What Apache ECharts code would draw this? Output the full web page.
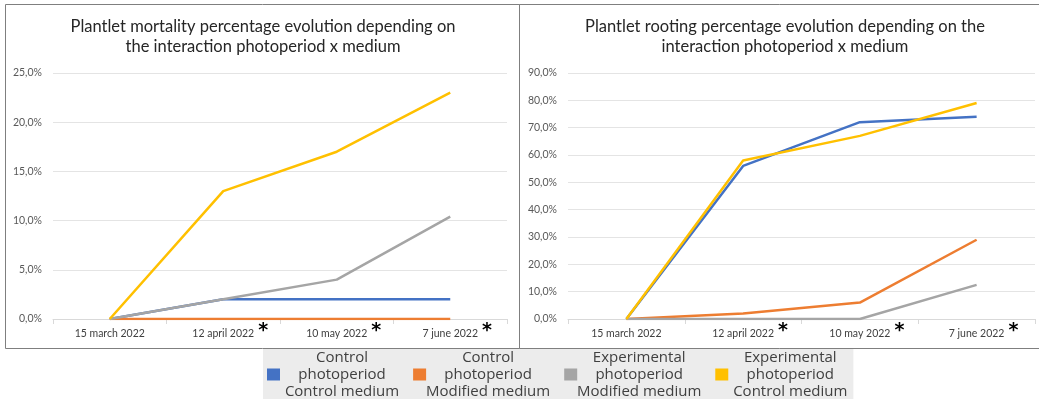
<!DOCTYPE html>
<html>
<head>
<meta charset="utf-8">
<script src="https://cdn.jsdelivr.net/npm/echarts@6/dist/echarts.min.js"></script>
<style>
html,body{margin:0;padding:0;background:#fff;}
#c{width:1039px;height:401px;}
</style>
</head>
<body>
<div id="c"></div>
<script>
var categories = ['15 march 2022', '12 april 2022', '10 may 2022', '7 june 2022'];
var starred = [false, true, true, true];
var seriesNames = [
  'Control\nphotoperiod\nControl medium',
  'Control\nphotoperiod\nModified medium',
  'Experimental\nphotoperiod\nModified medium',
  'Experimental\nphotoperiod\nControl medium'
];
var colors = ['#4472c4', '#ed7d31', '#a5a5a5', '#ffc000'];
// Mortality (%)
var mortControlControl = [0, 2, 2, 2];
var mortControlModified = [0, 0, 0, 0];
var mortExpModified = [0, 2, 4, 10.4];
var mortExpControl = [0, 13, 17, 23];
// Rooting (%)
var rootControlControl = [0, 56, 72, 74];
var rootControlModified = [0, 2, 6, 29];
var rootExpModified = [0, 0, 0, 12.5];
var rootExpControl = [0, 58, 67, 79];

var titleLeft = 'Plantlet mortality percentage evolution depending on\nthe interaction photoperiod x medium';
var titleRight = 'Plantlet rooting percentage evolution depending on the\ninteraction photoperiod x medium';

var FONT = 'Lato';
function pct(v){ return v.toFixed(1).replace('.', ',') + '%'; }
function catLabel(v){
  var idx = categories.indexOf(v);
  return '{p|}{t|' + v + '}{a|' + (starred[idx] ? '*' : ' ') + '}';
}
var xRich = {
  t: {fontSize: 10.5, color: '#404040', fontFamily: FONT, lineHeight: 14, verticalAlign: 'bottom'},
  p: {width: 14, lineHeight: 14},
  a: {width: 14, align: 'right', fontSize: 19, fontWeight: 'bold', color: '#000', fontFamily: 'DejaVu Sans', lineHeight: 19, height: 22, verticalAlign: 'top'}
};
function xAxis(gi){
  return {
    type: 'category', gridIndex: gi, data: categories, boundaryGap: true,
    axisLine: {lineStyle: {color: '#d9d9d9', width: 1}},
    axisTick: {show: true, length: 5, lineStyle: {color: '#d9d9d9'}},
    axisLabel: {margin: 1, interval: 0, formatter: catLabel, rich: xRich, lineHeight: 22, verticalAlign: 'top'}
  };
}
function yAxis(gi, max, step){
  return {
    type: 'value', gridIndex: gi, min: 0, max: max, interval: step,
    axisLine: {show: false}, axisTick: {show: false},
    splitLine: {lineStyle: {color: '#e4e4e4', width: 1}},
    axisLabel: {formatter: pct, color: '#595959', fontSize: 10.5, fontFamily: FONT, margin: 11}
  };
}
function line(name, data, gi, color){
  return {
    name: name, type: 'line', xAxisIndex: gi, yAxisIndex: gi, data: data,
    showSymbol: false, symbol: 'none', lineStyle: {width: 2.5, color: color},
    itemStyle: {color: color}, animation: false
  };
}
var chart = echarts.init(document.getElementById('c'), null, {renderer: 'canvas'});
chart.setOption({
  animation: false,
  color: colors,
  title: [
    {text: titleLeft, left: 258, top: 12, textAlign: 'center',
     textStyle: {fontSize: 16.5, fontWeight: 'normal', color: '#262626', fontFamily: FONT, lineHeight: 20}},
    {text: titleRight, left: 780, top: 12, textAlign: 'center',
     textStyle: {fontSize: 16.5, fontWeight: 'normal', color: '#262626', fontFamily: FONT, lineHeight: 20}}
  ],
  grid: [
    {left: 53, right: 532, top: 73, bottom: 82},
    {left: 568, right: 4, top: 73, bottom: 82}
  ],
  xAxis: [xAxis(0), xAxis(1)],
  yAxis: [yAxis(0, 25, 5), yAxis(1, 90, 10)],
  legend: {
    left: 263, top: 349, orient: 'horizontal',
    backgroundColor: '#ececec', padding: [1, 6, 0, 4],
    icon: 'rect', itemWidth: 13, itemHeight: 12, itemGap: 14,
    data: seriesNames,
    formatter: function(n){ return n.split('\n').map(function(s){ return '{c|' + s + '}'; }).join('\n'); },
    textStyle: {rich: {c: {width: 114, align: 'center', fontSize: 15, lineHeight: 17, color: '#404040', fontFamily: 'Open Sans'}}}
  },
  graphic: [
    {type: 'rect', z: -1, shape: {x: 5.5, y: 4.5, width: 514, height: 344}, style: {fill: 'none', stroke: '#7f7f7f', lineWidth: 1}},
    {type: 'polyline', z: -1, shape: {points: [[1039, 4.5], [519.5, 4.5], [519.5, 348.5], [1039, 348.5]]}, style: {fill: 'none', stroke: '#7f7f7f', lineWidth: 1}}
  ],
  series: [
    line(seriesNames[0], mortControlControl, 0, colors[0]),
    line(seriesNames[1], mortControlModified, 0, colors[1]),
    line(seriesNames[2], mortExpModified, 0, colors[2]),
    line(seriesNames[3], mortExpControl, 0, colors[3]),
    line(seriesNames[0], rootControlControl, 1, colors[0]),
    line(seriesNames[1], rootControlModified, 1, colors[1]),
    line(seriesNames[2], rootExpModified, 1, colors[2]),
    line(seriesNames[3], rootExpControl, 1, colors[3])
  ]
});
</script>
</body>
</html>
